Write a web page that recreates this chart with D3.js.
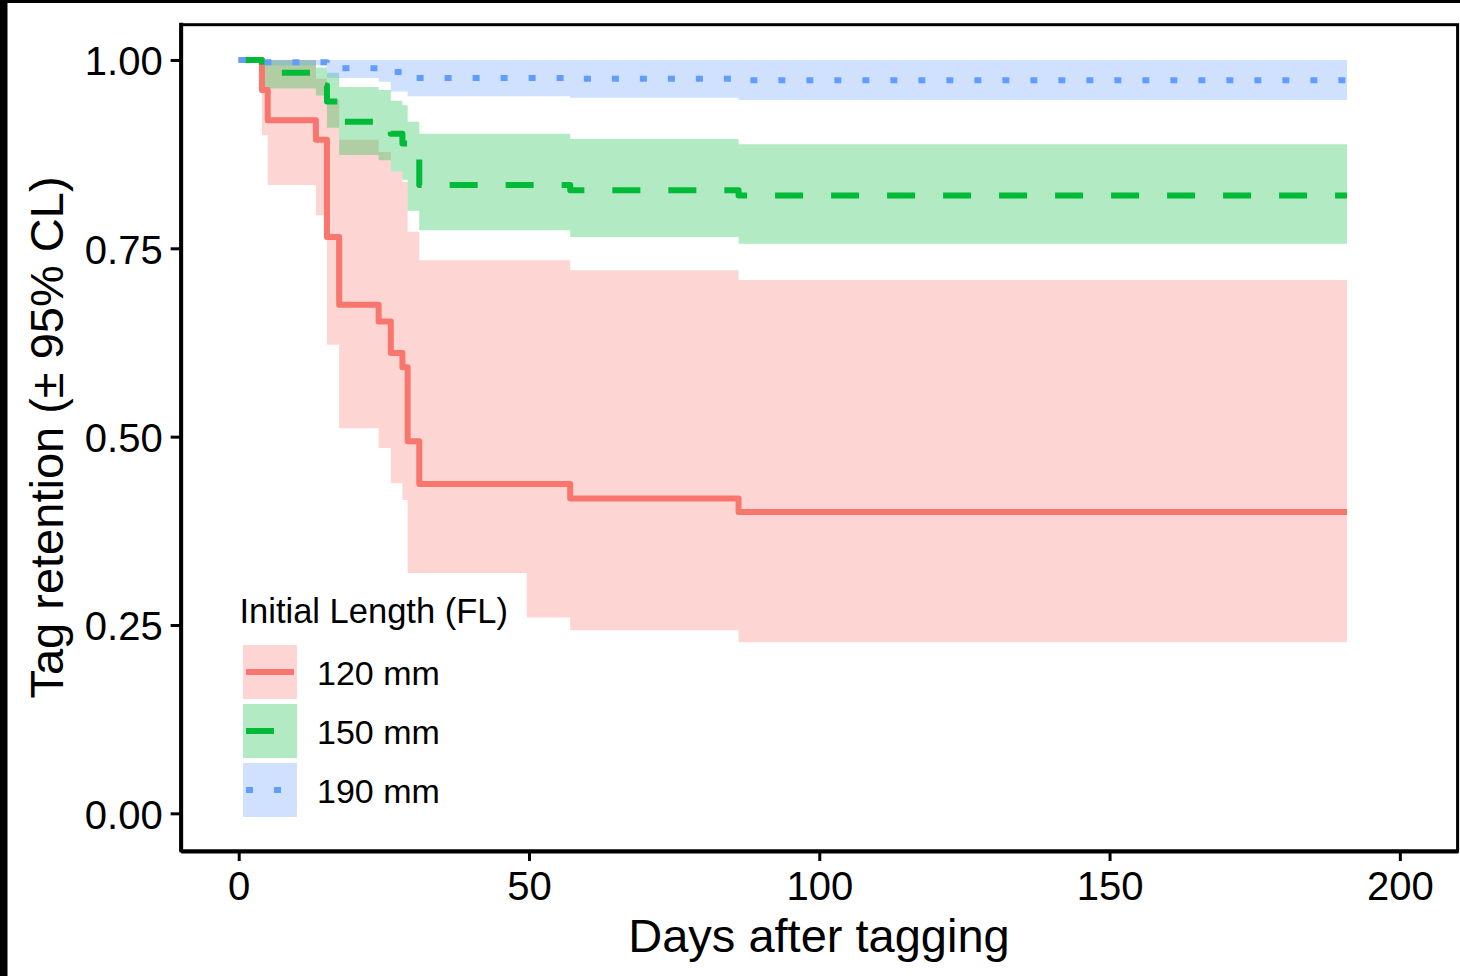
<!DOCTYPE html>
<html>

<head>
    <title>Tag retention</title>
    <script src="https://d3js.org/d3.v7.min.js"></script>
    <style>
        body { margin: 0; background: #fff; }
    </style>
</head>

<body>
    <svg id="chart"></svg>

    <script>
        // days at which the curves step (last value = end of follow-up)
        var days = [0, 4, 5, 13.3, 15.2, 17.3, 24.1, 26.2, 28.2, 29.1, 31.1, 49.6, 57.1, 86.1, 190.9];

        var groups = ["120 mm", "150 mm", "190 mm"];
        var colors = ["#F8766D", "#00BA38", "#619CFF"];
        var dashes = [null, "28,28", "7,21"];

        // 120 mm
        var surv120  = [1, 0.960, 0.920, 0.894, 0.765, 0.675, 0.653, 0.611, 0.592, 0.494, 0.437, 0.437, 0.418, 0.400, 0.400];
        var lower120 = [1, 0.900, 0.834, 0.794, 0.622, 0.511, 0.485, 0.438, 0.416, 0.319, 0.319, 0.260, 0.243, 0.227, 0.227];
        var upper120 = [1, 1.000, 1.000, 0.975, 0.947, 0.894, 0.878, 0.852, 0.838, 0.772, 0.734, 0.734, 0.721, 0.708, 0.708];

        // 150 mm
        var surv150  = [1, 0.983, 0.983, 0.966, 0.945, 0.918, 0.918, 0.902, 0.889, 0.889, 0.834, 0.834, 0.827, 0.820, 0.820];
        var lower150 = [1, 0.962, 0.962, 0.953, 0.910, 0.874, 0.867, 0.852, 0.841, 0.800, 0.774, 0.774, 0.765, 0.756, 0.756];
        var upper150 = [1, 1.000, 1.000, 0.990, 0.983, 0.964, 0.960, 0.946, 0.940, 0.918, 0.902, 0.902, 0.895, 0.888, 0.888];

        // 190 mm
        var surv190  = [1, 0.997, 0.997, 0.997, 0.989, 0.989, 0.986, 0.984, 0.984, 0.976, 0.976, 0.976, 0.975, 0.973, 0.973];
        var lower190 = [1, 0.993, 0.993, 0.993, 0.976, 0.976, 0.971, 0.958, 0.958, 0.952, 0.952, 0.952, 0.950, 0.947, 0.947];
        var upper190 = [1, 1, 1, 1, 1, 1, 1, 1, 1, 1, 1, 1, 1, 1, 1];

        var xTicks = [0, 50, 100, 150, 200];
        var yTicks = [0, 0.25, 0.5, 0.75, 1];

        var survs = [surv120, surv150, surv190];
        var lowers = [lower120, lower150, lower190];
        var uppers = [upper120, upper150, upper190];

        var series = groups.map(function(g, i) {
            return {
                key: g,
                color: colors[i],
                dash: dashes[i],
                values: days.map(function(t, j) {
                    return { t: t, s: survs[i][j], lo: lowers[i][j], hi: uppers[i][j] };
                })
            };
        });

        var W = 1460, H = 976;
        var font = "'Liberation Sans', Arial, sans-serif";

        var svg = d3.select("#chart")
            .attr("width", W)
            .attr("height", H)
            .style("display", "block");

        svg.append("rect").attr("width", W).attr("height", H).attr("fill", "#fff");
        // dark edges of the scan
        svg.append("rect").attr("x", 0).attr("y", 0).attr("width", 7.5).attr("height", H).attr("fill", "#000");
        svg.append("rect").attr("x", 0).attr("y", 0).attr("width", W).attr("height", 3).attr("fill", "#000");

        var x = d3.scaleLinear().domain([-10, 210]).range([180.65, 1457.9]);
        var y = d3.scaleLinear().domain([-0.05, 1.05]).range([851, 22.3]);

        var area = d3.area()
            .curve(d3.curveStepAfter)
            .x(d => x(d.t))
            .y0(d => y(d.lo))
            .y1(d => y(d.hi));

        var line = d3.line()
            .curve(d3.curveStepAfter)
            .x(d => x(d.t))
            .y(d => y(d.s));

        // confidence ribbons
        svg.append("g").selectAll("path")
            .data(series)
            .enter().append("path")
            .attr("d", d => area(d.values))
            .attr("fill", d => d.color)
            .attr("fill-opacity", 0.3);

        // survival steps
        svg.append("g").selectAll("path")
            .data(series)
            .enter().append("path")
            .attr("d", d => line(d.values))
            .attr("fill", "none")
            .attr("stroke", d => d.color)
            .attr("stroke-width", 6)
            .attr("stroke-linejoin", "round")
            .attr("stroke-linecap", "butt")
            .attr("stroke-dasharray", d => d.dash);

        // panel border
        svg.append("rect")
            .attr("x", 181).attr("y", 24.7)
            .attr("width", 1457.6 - 181).attr("height", 851 - 24.7)
            .attr("fill", "none")
            .attr("stroke", "#000")
            .attr("stroke-width", 3);

        // x axis
        var gx = svg.append("g")
            .attr("transform", "translate(0,851)")
            .call(d3.axisBottom(x).tickValues(xTicks).tickSize(10).tickSizeOuter(0));
        gx.select(".domain").attr("stroke", "#000").attr("stroke-width", 4);
        gx.selectAll(".tick line").attr("stroke", "#000").attr("stroke-width", 3);
        gx.selectAll(".tick text")
            .attr("y", 48.5).attr("dy", null)
            .attr("fill", "#000")
            .style("font-family", font)
            .style("font-size", "40px");

        // y axis
        var gy = svg.append("g")
            .attr("transform", "translate(180.65,0)")
            .call(d3.axisLeft(y).tickValues(yTicks).tickSize(10).tickSizeOuter(0).tickFormat(d3.format(".2f")));
        gy.select(".domain").attr("stroke", "#000").attr("stroke-width", 4);
        gy.selectAll(".tick line").attr("stroke", "#000").attr("stroke-width", 3);
        gy.selectAll(".tick text")
            .attr("x", -18).attr("y", 15).attr("dy", null)
            .attr("fill", "#000")
            .style("font-family", font)
            .style("font-size", "40px");

        // axis titles
        svg.append("text")
            .attr("x", 819).attr("y", 952)
            .attr("text-anchor", "middle")
            .style("font-family", font)
            .style("font-size", "47px")
            .text("Days after tagging");

        svg.append("text")
            .attr("transform", "translate(63,437.5) rotate(-90)")
            .attr("text-anchor", "middle")
            .style("font-family", font)
            .style("font-size", "47px")
            .text("Tag retention (\u00b1 95% CL)");

        // legend
        var legend = svg.append("g");
        legend.append("text")
            .attr("x", 239.5).attr("y", 622.7)
            .style("font-family", font)
            .style("font-size", "34.5px")
            .text("Initial Length (FL)");

        var keys = legend.selectAll(".key")
            .data(series)
            .enter().append("g")
            .attr("transform", (d, i) => "translate(243," + (645 + i * 59) + ")");

        keys.append("rect")
            .attr("width", 54).attr("height", 54)
            .attr("fill", d => d.color)
            .attr("fill-opacity", 0.3);

        keys.append("line")
            .attr("x1", 3).attr("x2", 51)
            .attr("y1", 27).attr("y2", 27)
            .attr("stroke", d => d.color)
            .attr("stroke-width", 6)
            .attr("stroke-dasharray", d => d.dash);

        keys.append("text")
            .attr("x", 74).attr("y", 40)
            .style("font-family", font)
            .style("font-size", "34px")
            .text(d => d.key);
    </script>
</body>

</html>
